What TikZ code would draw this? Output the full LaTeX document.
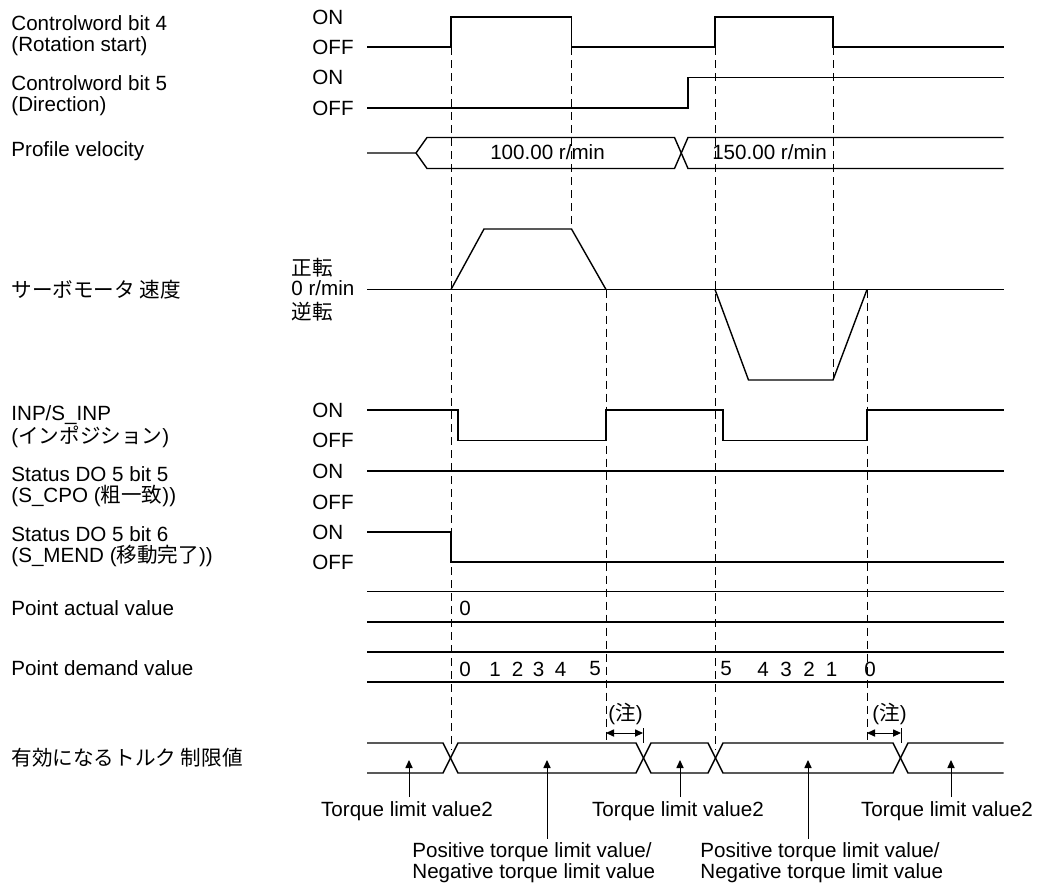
\documentclass[tikz,border=0pt]{standalone}
\usepackage{fontspec}
\setmainfont{Liberation Sans}
\newfontfamily\jpfont{Noto Sans CJK JP}
\usetikzlibrary{arrows.meta}
\definecolor{lineMain}{HTML}{000000}
\definecolor{textMain}{HTML}{000000}
\tikzset{
  sigline/.style={
    draw=lineMain, line width=0.7pt,
  },
  guideline/.style={
    draw=lineMain, line width=0.5pt, dash pattern=on 4pt off 2.5pt,
  },
  sigtext/.style={
    font=\fontsize{10.3}{10.4}\selectfont, text=textMain, inner sep=0pt, align=left,
  },
  namelabel/.style={sigtext, anchor=north west},
  levellabel/.style={sigtext, anchor=west},
  valtext/.style={sigtext, anchor=center},
  bottomlabel/.style={sigtext, inner ysep=2pt},
  uparrow/.style={
    -{Triangle[length=4pt, width=3.6pt]}, line width=0.5pt, color=lineMain,
  },
  notearrow/.style={
    {Triangle[length=4pt, width=3.6pt]}-{Triangle[length=4pt, width=3.6pt]}, line width=0.5pt, color=lineMain,
  },
}

\begin{document}
\begin{tikzpicture}[x=0.5pt, y=-0.5pt]
  \useasboundingbox (0,0) rectangle (1049,884);

  % === Signal names ===
  \node[namelabel] (cwfour) at (11,15) {Controlword bit 4\\(Rotation start)};
  \node[namelabel] (cwfive) at (11,75.5) {Controlword bit 5\\(Direction)};
  \node[namelabel] (profvel) at (11,141) {Profile velocity};
  \node[sigtext, anchor=west] (motspd) at (11,290) {\jpfont サーボモータ 速度};
  \node[namelabel] (inpos) at (11,405) {INP/S\_INP\\({\jpfont インポジション})};
  \node[namelabel] (dofive) at (11,466) {Status DO 5 bit 5\\(S\_CPO ({\jpfont 粗一致}))};
  \node[namelabel] (dosix) at (11,526.5) {Status DO 5 bit 6\\(S\_MEND ({\jpfont 移動完了}))};
  \node[namelabel] (ptact) at (11,600.5) {Point actual value};
  \node[namelabel] (ptdem) at (11,660) {Point demand value};
  \node[sigtext, anchor=west] (tqsel) at (11,758) {\jpfont 有効になるトルク 制限値};

  % === ON / OFF levels ===
  \node[levellabel] (cwfourOn) at (312,17) {ON};
  \node[levellabel] (cwfourOff) at (312,47) {OFF};
  \node[levellabel] (cwfiveOn) at (312,77.5) {ON};
  \node[levellabel] (cwfiveOff) at (312,108) {OFF};
  \node[levellabel] (inposOn) at (312,410) {ON};
  \node[levellabel] (inposOff) at (312,440.5) {OFF};
  \node[levellabel] (dofiveOn) at (312,471) {ON};
  \node[levellabel] (dofiveOff) at (312,502) {OFF};
  \node[levellabel] (dosixOn) at (312,532) {ON};
  \node[levellabel] (dosixOff) at (312,562) {OFF};

  % === Speed axis ===
  \node[levellabel] (spdFwd) at (291,268) {\jpfont 正転};
  \node[levellabel] (spdZero) at (291,288.5) {0 r/min};
  \node[levellabel] (spdRev) at (291,311.5) {\jpfont 逆転};

  % === Timing guides ===
  \draw[guideline] (451,47) -- (451,750);
  \draw[guideline] (571.5,47) -- (571.5,229);
  \draw[guideline] (606,289.5) -- (606,743);
  \draw[guideline] (715,47) -- (715,750);
  \draw[guideline] (833,47) -- (833,380);
  \draw[guideline] (867,289.5) -- (867,743);

  % === Control words ===
  \draw[sigline] (367,47) -- (451,47) -- (451,17) -- (571.5,17) -- (571.5,47) -- (715,47) -- (715,17) -- (833,17) -- (833,47) -- (1003.5,47);
  \draw[sigline] (367,108) -- (688,108) -- (688,77.5) -- (1003.5,77.5);

  % === Profile velocity bus ===
  \draw[sigline] (367,153) -- (416,153) -- (427,137.5) -- (674.5,137.5) -- (688,168.5) -- (1003.5,168.5);
  \draw[sigline] (416,153) -- (427,168.5) -- (674.5,168.5) -- (688,137.5) -- (1003.5,137.5);
  \node[valtext] (velA) at (547.5,152.5) {100.00 r/min};
  \node[valtext] (velB) at (769.5,152.5) {150.00 r/min};

  % === Motor speed ===
  \draw[sigline] (367,289.5) -- (1003.5,289.5);
  \draw[sigline] (451,289.5) -- (484,229) -- (571.5,229) -- (606,289.5);
  \draw[sigline] (715,289.5) -- (748.5,380) -- (833,380) -- (867,289.5);

  % === Status outputs ===
  \draw[sigline] (367,410) -- (458,410) -- (458,440.5) -- (606,440.5) -- (606,410) -- (723,410) -- (723,440.5) -- (867,440.5) -- (867,410) -- (1003.5,410);
  \draw[sigline] (367,471) -- (1003.5,471);
  \draw[sigline] (367,532) -- (451,532) -- (451,562) -- (1003.5,562);

  % === Point values ===
  \foreach \y in {591.5, 622, 652, 682}
    \draw[sigline] (367,\y) -- (1003.5,\y);
  \node[valtext] (actZero) at (465,608) {0};
  \foreach \x/\d [count=\i] in {465/0, 495/1, 517.5/2, 538.5/3, 560.5/4, 595/5, 726/5, 763/4, 786/3, 809/2, 831.5/1, 870/0}
    \node[valtext] (dem\i) at (\x,669) {\d};

  % === Torque limit bus ===
  \draw[sigline] (367,743) -- (443,743) -- (458,773) -- (636,773) -- (651,743) -- (708,743) -- (723,773) -- (893,773) -- (908,743) -- (1003.5,743);
  \draw[sigline] (367,773) -- (443,773) -- (458,743) -- (636,743) -- (651,773) -- (708,773) -- (723,743) -- (893,743) -- (908,773) -- (1003.5,773);

  % === Notes ===
  \draw[sigline, line width=0.5pt] (643,728) -- (643,743);
  \draw[sigline, line width=0.5pt] (901,728) -- (901,743);
  \coordinate (gapAl) at (606,733);
  \coordinate (gapAr) at (643,733);
  \coordinate (gapBl) at (867,733);
  \coordinate (gapBr) at (901,733);
  \draw[notearrow] (gapAl) -- (gapAr);
  \draw[notearrow] (gapBl) -- (gapBr);
  \node[valtext] (noteA) at (625.5,714) {({\jpfont 注})};
  \node[valtext] (noteB) at (889.5,714) {({\jpfont 注})};

  % === Torque limit labels ===
  \coordinate (tqA) at (409,760);
  \coordinate (tqB) at (547,760);
  \coordinate (tqC) at (680,760);
  \coordinate (tqD) at (808,760);
  \coordinate (tqE) at (951,760);
  \node[bottomlabel, anchor=north] (tlvA) at (407,797) {Torque limit value2};
  \node[bottomlabel, anchor=north] (tlvB) at (678,797) {Torque limit value2};
  \node[bottomlabel, anchor=north] (tlvC) at (947,797) {Torque limit value2};
  \node[bottomlabel, anchor=north west] (ptlA) at (412,838.5) {Positive torque limit value/\\Negative torque limit value};
  \node[bottomlabel, anchor=north west] (ptlB) at (700,838.5) {Positive torque limit value/\\Negative torque limit value};
  \draw[uparrow] (tlvA.north -| tqA) -- (tqA);
  \draw[uparrow] (ptlA.north west -| tqB) -- (tqB);
  \draw[uparrow] (tlvB.north -| tqC) -- (tqC);
  \draw[uparrow] (ptlB.north west -| tqD) -- (tqD);
  \draw[uparrow] (tlvC.north -| tqE) -- (tqE);

\end{tikzpicture}
\end{document}
